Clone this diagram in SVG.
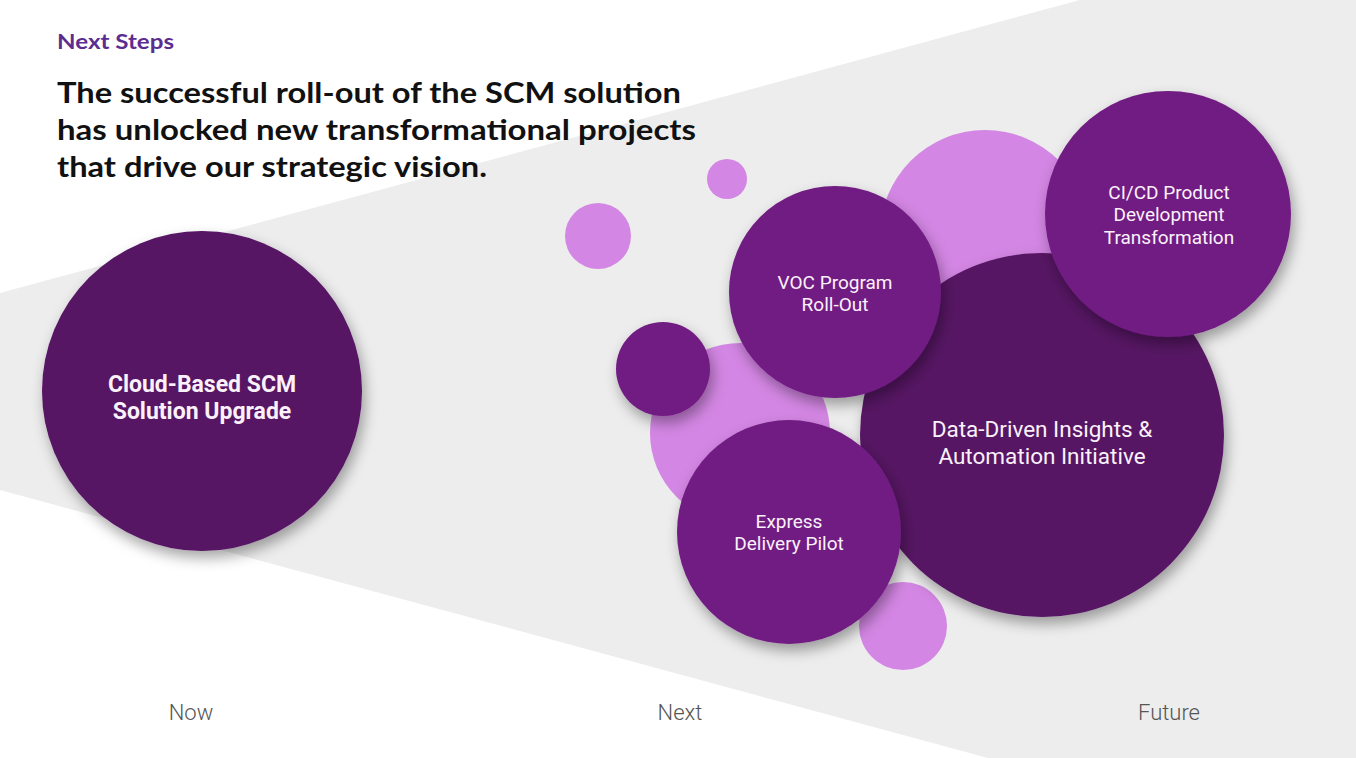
<svg xmlns="http://www.w3.org/2000/svg" width="1356" height="758" viewBox="0 0 1356 758">
<defs>
<filter id="sh" x="-30%" y="-30%" width="160%" height="170%">
<feDropShadow dx="3" dy="7" stdDeviation="7" flood-color="#000" flood-opacity="0.35"/>
</filter>
<style>
.dark{fill:#561464}
.mid{fill:#711C82}
.pink{fill:#D386E3}
.lbl{font-family:Roboto,"Liberation Sans",sans-serif;fill:#FBF1FB;text-anchor:middle}
.axis{font-family:Roboto,"Liberation Sans",sans-serif;fill:#555;font-size:22px;font-weight:300;text-anchor:middle}
.head{font-family:Lato,"Liberation Sans",sans-serif;font-weight:700}
</style>
</defs>
<rect width="1356" height="758" fill="#FFFFFF"/>
<polygon points="0,293 1080,0 1356,0 1356,758 988,758 0,490" fill="#EDEDED"/>
<text class="head" x="57" y="49" font-size="20" fill="#5C2D91" textLength="117" lengthAdjust="spacingAndGlyphs">Next Steps</text>
<text class="head" x="57" y="103" font-size="28" fill="#111" textLength="624" lengthAdjust="spacingAndGlyphs">The successful roll-out of the SCM solution</text>
<text class="head" x="57" y="140" font-size="28" fill="#111" textLength="639" lengthAdjust="spacingAndGlyphs">has unlocked new transformational projects</text>
<text class="head" x="57" y="177" font-size="28" fill="#111" textLength="430" lengthAdjust="spacingAndGlyphs">that drive our strategic vision.</text>
<g id="now">
<circle class="dark" cx="202" cy="391" r="160" filter="url(#sh)"/>
<text class="lbl" x="202" y="392" font-size="23" font-weight="700">Cloud-Based SCM</text>
<text class="lbl" x="202" y="419" font-size="23" font-weight="700">Solution Upgrade</text>
</g>
<g id="bubbles">
<circle class="pink" cx="727" cy="179" r="20"/>
<circle class="pink" cx="598" cy="236" r="33"/>
<circle class="pink" cx="985" cy="235" r="105"/>
<circle class="pink" cx="740" cy="433" r="90"/>
<circle class="mid" cx="663" cy="369" r="47" filter="url(#sh)"/>
<circle class="pink" cx="903" cy="626" r="44"/>
</g>
<g id="data">
<circle class="dark" cx="1042" cy="435" r="182" filter="url(#sh)"/>
<text class="lbl" x="1042" y="437" font-size="22.5">Data-Driven Insights &amp;</text>
<text class="lbl" x="1042" y="464" font-size="22.5">Automation Initiative</text>
</g>
<g id="voc">
<circle class="mid" cx="835" cy="292" r="106" filter="url(#sh)"/>
<text class="lbl" x="835" y="289" font-size="19">VOC Program</text>
<text class="lbl" x="835" y="311" font-size="19">Roll-Out</text>
</g>
<g id="cicd">
<circle class="mid" cx="1168" cy="214" r="123" filter="url(#sh)"/>
<text class="lbl" x="1169" y="199" font-size="19">CI/CD Product</text>
<text class="lbl" x="1169" y="221" font-size="19">Development</text>
<text class="lbl" x="1169" y="244" font-size="19">Transformation</text>
</g>
<g id="express">
<circle class="mid" cx="789" cy="532" r="112" filter="url(#sh)"/>
<text class="lbl" x="789" y="528" font-size="19">Express</text>
<text class="lbl" x="789" y="550" font-size="19">Delivery Pilot</text>
</g>
<g id="connectors"></g>
<text class="axis" x="191" y="720">Now</text>
<text class="axis" x="680" y="720">Next</text>
<text class="axis" x="1169" y="720">Future</text>
</svg>
